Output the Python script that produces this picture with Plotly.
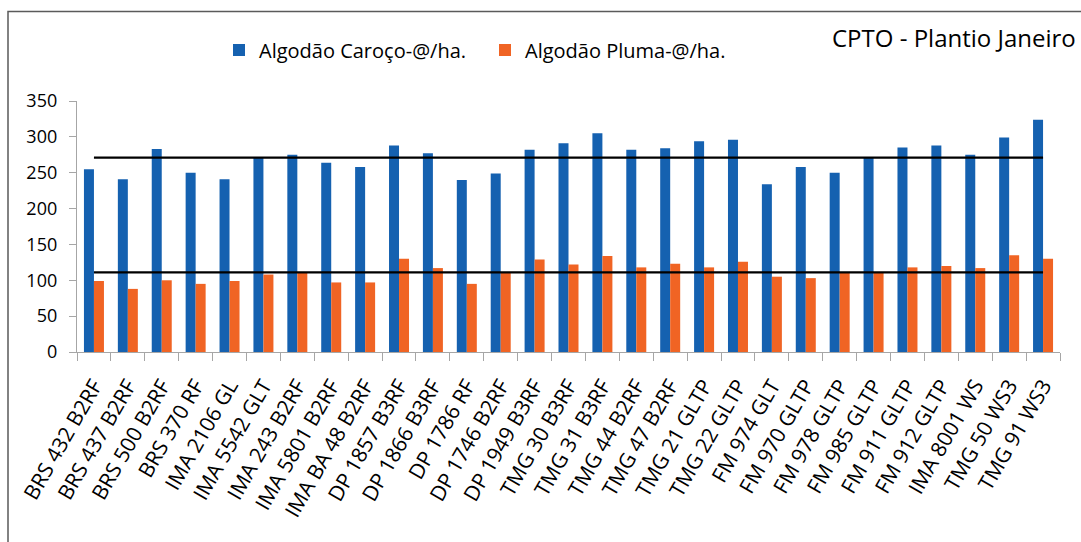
import plotly.graph_objects as go

cultivares = ["BRS 432 B2RF", "BRS 437 B2RF", "BRS 500 B2RF", "BRS 370 RF", "IMA 2106 GL",
              "IMA 5542 GLT", "IMA 243 B2RF", "IMA 5801 B2RF", "IMA BA 48 B2RF", "DP 1857 B3RF",
              "DP 1866 B3RF", "DP 1786 RF", "DP 1746 B2RF", "DP 1949 B3RF", "TMG 30 B3RF",
              "TMG 31 B3RF", "TMG 44 B2RF", "TMG 47 B2RF", "TMG 21 GLTP", "TMG 22 GLTP",
              "FM 974 GLT", "FM 970 GLTP", "FM 978 GLTP", "FM 985 GLTP", "FM 911 GLTP",
              "FM 912 GLTP", "IMA 8001 WS", "TMG 50 WS3", "TMG 91 WS3"]

caroco = [255, 241, 283, 250, 241, 272, 275, 264, 258, 288,
          277, 240, 249, 282, 291, 305, 282, 284, 294, 296,
          234, 258, 250, 271, 285, 288, 275, 299, 324]

pluma = [99, 88, 100, 95, 99, 108, 111, 97, 97, 130,
         117, 95, 111, 129, 122, 134, 118, 123, 118, 126,
         105, 103, 111, 111, 118, 120, 117, 135, 130]

media_caroco = [271] * len(cultivares)
media_pluma = [111] * len(cultivares)

y_ticks = [0, 50, 100, 150, 200, 250, 300, 350]

FONT = "Open Sans"
BLUE = "#1561B0"
ORANGE = "#F06424"

fig = go.Figure()
fig.add_trace(go.Bar(x=cultivares, y=caroco, name="Algodão Caroço-@/ha.",
                     marker=dict(color=BLUE, line=dict(width=0))))
fig.add_trace(go.Bar(x=cultivares, y=pluma, name="Algodão Pluma-@/ha.",
                     marker=dict(color=ORANGE, line=dict(width=0))))
fig.add_trace(go.Scatter(x=cultivares, y=media_caroco, mode="lines",
                         line=dict(color="black", width=2.2), showlegend=False, hoverinfo="skip"))
fig.add_trace(go.Scatter(x=cultivares, y=media_pluma, mode="lines",
                         line=dict(color="black", width=2.2), showlegend=False, hoverinfo="skip"))

W, H = 1081, 542
L, R, T, B = 77, 21, 101, 190
pw, ph = W - L - R, H - T - B


def px_x(px):
    return (px - L) / pw


def px_y(py):
    return (H - B - py) / ph


fig.update_layout(
    width=W, height=H,
    margin=dict(l=L, r=R, t=T, b=B, autoexpand=False),
    paper_bgcolor="white", plot_bgcolor="white",
    barmode="group", bargap=0.41, bargroupgap=0,
    font=dict(family=FONT, color="black"),
    showlegend=True,
    legend=dict(orientation="h", x=px_x(219), y=px_y(50), xanchor="left", yanchor="middle",
                font=dict(size=20, family=FONT, color="black"), bgcolor="rgba(0,0,0,0)",
                traceorder="normal", entrywidth=221, entrywidthmode="pixels"),
    xaxis=dict(type="category", showline=True, linecolor="#A6A6A6", linewidth=1.3,
               ticks="outside", tickson="boundaries", ticklen=8, tickcolor="#A6A6A6",
               tickangle=-60, tickfont=dict(size=21, family=FONT, color="black"),
               ticklabelstandoff=12,
               showgrid=False, zeroline=False, automargin=False),
    yaxis=dict(range=[0, 350], tickvals=y_ticks, showline=True, linecolor="#A6A6A6",
               linewidth=1.3, ticks="outside", ticklen=7, tickcolor="#A6A6A6",
               tickfont=dict(size=18, family=FONT, color="black"), showgrid=False,
               ticklabelstandoff=8,
               zeroline=False, automargin=False),
    annotations=[dict(text="CPTO - Plantio Janeiro", xref="paper", yref="paper",
                      x=px_x(1078), y=px_y(37), xanchor="right", yanchor="middle",
                      showarrow=False, font=dict(size=24, family=FONT, color="black"))],
    shapes=[dict(type="rect", xref="paper", yref="paper",
                 x0=px_x(8), x1=px_x(1100), y0=px_y(600), y1=px_y(11.5),
                 line=dict(color="#5A5A5A", width=1.5), fillcolor="rgba(0,0,0,0)",
                 layer="below")],
)

fig.write_html("out.html", config={"displayModeBar": False},
               post_script="document.body.style.margin='0';")
